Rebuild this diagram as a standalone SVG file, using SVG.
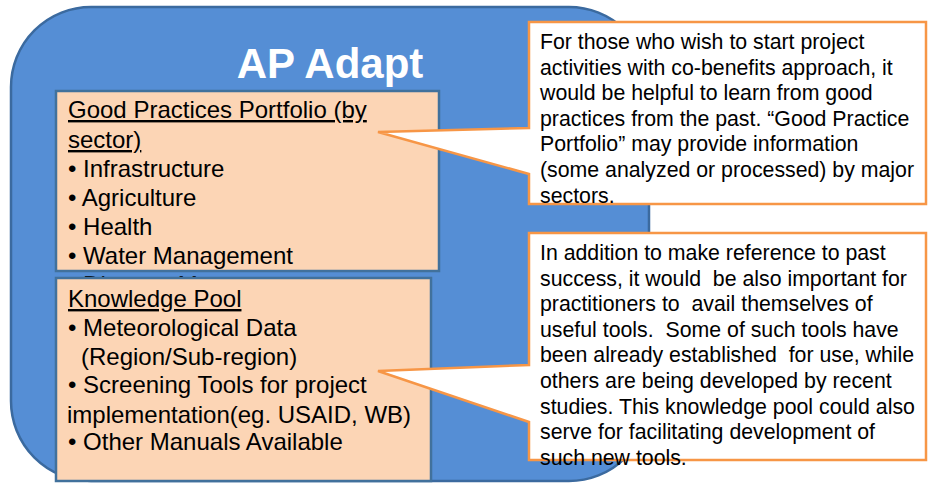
<svg xmlns="http://www.w3.org/2000/svg" width="933" height="484" viewBox="0 0 933 484">
<style>
.frame{fill:#558ED5;stroke:#3B6A9F;stroke-width:2.5}
.title{font-family:"Liberation Sans",Arial,sans-serif;font-weight:bold;font-size:42px;fill:#FFFFFF}
.box{fill:#FCD5B5;stroke:#41719C;stroke-width:2.5}
.bt{font-family:"Liberation Sans",Arial,sans-serif;font-size:24px;fill:#000000}
.u{text-decoration:underline}
.call{fill:#FFFFFF;stroke:#F79646;stroke-width:2.5;stroke-linejoin:miter}
.ct{font-family:"Liberation Sans",Arial,sans-serif;font-size:21.3px;fill:#000000;white-space:pre}
</style>
<defs>
<clipPath id="gapClip"><rect x="56" y="268" width="383" height="10"/></clipPath>
</defs>
<rect width="933" height="484" fill="#FFFFFF"/>
<g id="ap-adapt">
<rect class="frame" x="11" y="7" width="638" height="474" rx="80" ry="80"/>
<text class="title" x="330" y="78" text-anchor="middle">AP Adapt</text>
</g>
<g id="good-practices">
<rect class="box" x="56" y="91" width="383" height="180"/>
<text class="bt u" x="68" y="118">Good Practices Portfolio (by</text>
<text class="bt u" x="68" y="148">sector)</text>
<text class="bt" x="68" y="177">• Infrastructure</text>
<text class="bt" x="68" y="206">• Agriculture</text>
<text class="bt" x="68" y="235">• Health</text>
<text class="bt" x="68" y="264">• Water Management</text>
<text class="bt" x="68" y="293" clip-path="url(#gapClip)">• Disaster Management</text>
</g>
<g id="knowledge-pool">
<rect class="box" x="56" y="278" width="375" height="203"/>
<text class="bt u" x="68" y="307">Knowledge Pool</text>
<text class="bt" x="68" y="336">• Meteorological Data</text>
<text class="bt" x="81" y="365">(Region/Sub-region)</text>
<text class="bt" x="68" y="393">• Screening Tools for project</text>
<text class="bt" x="67" y="423">implementation(eg. USAID, WB)</text>
<text class="bt" x="68" y="450">• Other Manuals Available</text>
</g>
<g id="connectors"></g>
<g id="callout-portfolio">
<path class="call" d="M529,22 H926 V204 H529 V174 L378,132 L529,128 Z"/>
<text class="ct" x="540" y="49">For those who wish to start project</text>
<text class="ct" x="540" y="74.6">activities with co-benefits approach, it</text>
<text class="ct" x="540" y="100.2">would be helpful to learn from good</text>
<text class="ct" x="540" y="125.8">practices from the past. “Good Practice</text>
<text class="ct" x="540" y="151.4">Portfolio” may provide information</text>
<text class="ct" x="540" y="177">(some analyzed or processed) by major</text>
<text class="ct" x="540" y="202.6">sectors.</text>
</g>
<g id="callout-knowledge">
<path class="call" d="M529,233 H926 V460 H529 V422 L378,371 L529,365 Z"/>
<text class="ct" x="540" y="260">In addition to make reference to past</text>
<text class="ct" x="540" y="285.6">success, it would  be also important for</text>
<text class="ct" x="540" y="311.2">practitioners to  avail themselves of</text>
<text class="ct" x="540" y="336.8">useful tools.  Some of such tools have</text>
<text class="ct" x="540" y="362.4">been already established  for use, while</text>
<text class="ct" x="540" y="388">others are being developed by recent</text>
<text class="ct" x="540" y="413.6">studies. This knowledge pool could also</text>
<text class="ct" x="540" y="439.2">serve for facilitating development of</text>
<text class="ct" x="540" y="464.8">such new tools.</text>
</g>
</svg>
